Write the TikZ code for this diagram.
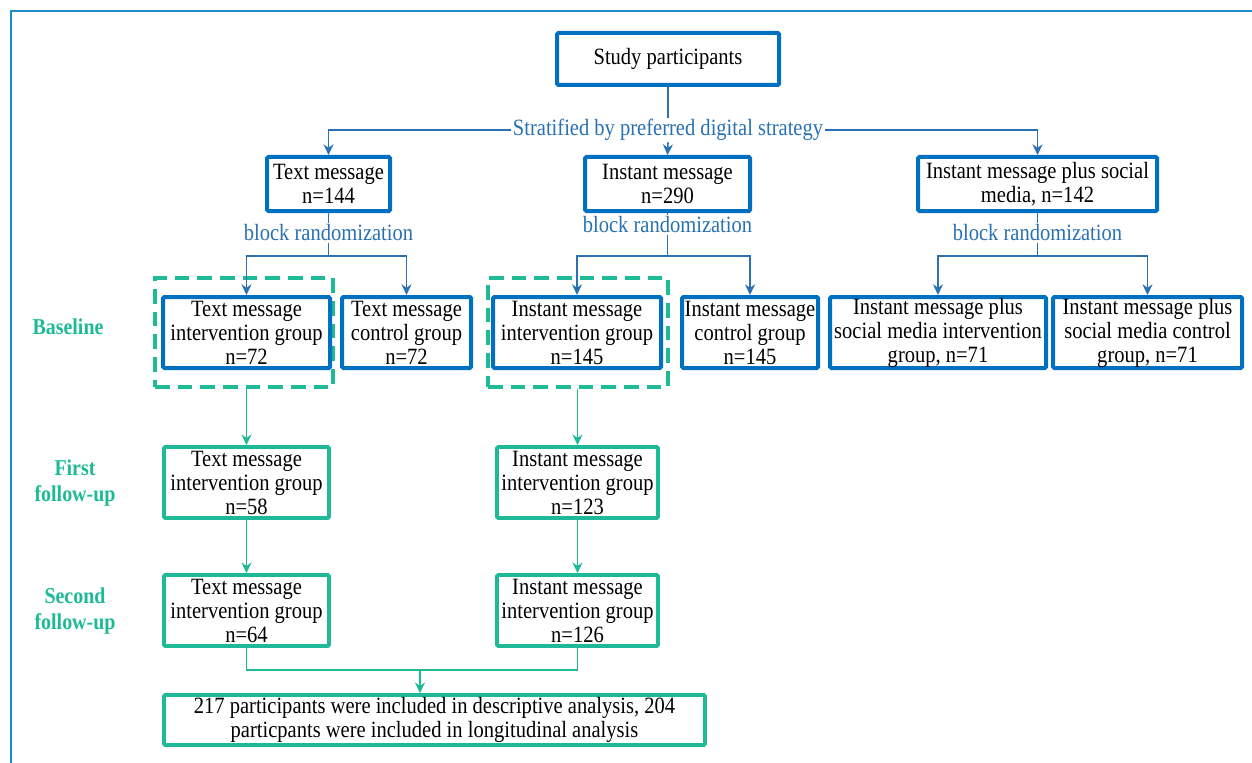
\documentclass[tikz,border=0pt]{standalone}
\usepackage{fontspec}
\setmainfont{Liberation Serif}
\newfontfamily\tnr{Liberation Serif}[FakeStretch=0.88]
\usetikzlibrary{arrows.meta,calc}
\definecolor{boxblue}{RGB}{0,112,192}
\definecolor{lineblue}{RGB}{41,113,178}
\definecolor{tgreen}{RGB}{30,186,152}
\definecolor{frameblue}{RGB}{32,140,200}
\begin{document}
\begin{tikzpicture}[x=0.75pt,y=-0.75pt,
  every node/.style={font=\tnr\fontsize{17.5}{18}\selectfont},
  bbox/.style={draw=boxblue,line width=3pt,inner sep=0pt,align=center,rounded corners=1pt,fill=white},
  gbox/.style={draw=tgreen,line width=2.8pt,inner sep=0pt,align=center,rounded corners=1pt,fill=white},
  dbox/.style={draw=tgreen,line width=2.4pt,dash pattern=on 11pt off 6pt,inner sep=0pt},
  blab/.style={text=lineblue,fill=white,inner sep=1pt},
  glab/.style={text=tgreen,font=\tnr\fontsize{17}{19.5}\selectfont\bfseries,align=center},
  bline/.style={draw=lineblue,line width=1.2pt},
  barrow/.style={bline,-{Stealth[length=8pt,width=7.5pt]}},
  gline/.style={draw=tgreen,line width=1.2pt},
  garrow/.style={gline,-{Stealth[length=8pt,width=7.5pt]}}
]
\useasboundingbox (0,0) rectangle (1252,763);
\draw[frameblue,line width=2.2pt] (11,763) -- (11,11) -- (1252,11);

% top
\node[bbox,minimum width=166.5pt,minimum height=39pt] (sp) at (668,59) {Study participants};
\node[blab] (strat) at (668,130) {Stratified by preferred digital strategy};

\node[bbox,minimum width=92.25pt,minimum height=40.5pt] (tm) at (328.5,184) {Text message\\n=144};
\node[bbox,minimum width=123.75pt,minimum height=40.5pt] (im) at (667.5,184) {Instant message\\n=290};
\node[bbox,minimum width=179.25pt,minimum height=40.5pt] (ims) at (1037.5,184) {Instant message plus social\\media, n=142};

\draw[bline] (sp.south) -- (strat.north);
\draw[barrow] (strat.west) -| (tm.north);
\draw[barrow] (strat.east) -| (ims.north);
\draw[barrow] (strat.south) -- (im.north);

% block randomization
\node[blab] (br1) at (328.5,233) {block randomization};
\node[blab] (br2) at (667.5,225) {block randomization};
\node[blab] (br3) at (1037.5,233) {block randomization};
\coordinate (j1) at (328.5,256);
\coordinate (j2) at (667.5,256);
\coordinate (j3) at (1037.5,256);

% dashed groups
\node[dbox,minimum width=133.5pt,minimum height=81.75pt] (d1) at (244,332.5) {};
\node[dbox,minimum width=135pt,minimum height=81.75pt] (d2) at (578,332.5) {};

% baseline boxes
\node[bbox,minimum width=125.25pt,minimum height=53.25pt] (tmi) at (246.5,332.5) {Text message\\intervention group\\n=72};
\node[bbox,minimum width=96.75pt,minimum height=53.25pt] (tmc) at (406.5,332.5) {Text message\\control group\\n=72};
\node[bbox,minimum width=126pt,minimum height=53.25pt] (imi) at (577,332.5) {Instant message\\intervention group\\n=145};
\node[bbox,minimum width=102pt,minimum height=53.25pt] (imc) at (750,332.5) {Instant message\\control group\\n=145};
\node[bbox,minimum width=162pt,minimum height=53.25pt] (imsi) at (938,332.5) {Instant message plus\\social media intervention\\group, n=71};
\node[bbox,minimum width=141.75pt,minimum height=53.25pt] (imsc) at (1147.5,332.5) {Instant message plus\\social media control\\group, n=71};

\draw[bline] (tm.south) -- (br1.north);
\draw[bline] (br1.south) -- (j1);
\draw[barrow] (j1) -| (tmi.north);
\draw[barrow] (j1) -| (tmc.north);
\draw[bline] (im.south) -- (br2.north);
\draw[bline] (br2.south) -- (j2);
\draw[barrow] (j2) -| (imi.north);
\draw[barrow] (j2) -| (imc.north);
\draw[bline] (ims.south) -- (br3.north);
\draw[bline] (br3.south) -- (j3);
\draw[barrow] (j3) -| (imsi.north);
\draw[barrow] (j3) -| (imsc.north);

% follow-ups
\node[gbox,minimum width=123.75pt,minimum height=53.25pt] (f1t) at (246.5,482.5) {Text message\\intervention group\\n=58};
\node[gbox,minimum width=120.75pt,minimum height=53.25pt] (f1i) at (577.5,482.5) {Instant message\\intervention group\\n=123};
\node[gbox,minimum width=123.75pt,minimum height=53.25pt] (f2t) at (246.5,610.5) {Text message\\intervention group\\n=64};
\node[gbox,minimum width=120.75pt,minimum height=53.25pt] (f2i) at (577.5,610.5) {Instant message\\intervention group\\n=126};
\node[gbox,minimum width=405.75pt,minimum height=37.5pt] (fin) at (434.5,720) {217 participants were included in descriptive analysis, 204\\particpants were included in longitudinal analysis};

\draw[garrow] (f1t.north |- d1.south) -- (f1t.north);
\draw[garrow] (f1i.north |- d2.south) -- (f1i.north);
\draw[garrow] (f1t.south) -- (f2t.north);
\draw[garrow] (f1i.south) -- (f2i.north);
\coordinate (m) at (420,670);
\draw[gline] (f2t.south) |- (m) -| (f2i.south);
\draw[garrow] (m) -- (m |- fin.north);

% row labels
\node[glab] (lb) at (68,327) {Baseline};
\node[glab] (l1) at (75,483) {First\\follow-up};
\node[glab] (l2) at (75,611) {Second\\follow-up};
\end{tikzpicture}
\end{document}
